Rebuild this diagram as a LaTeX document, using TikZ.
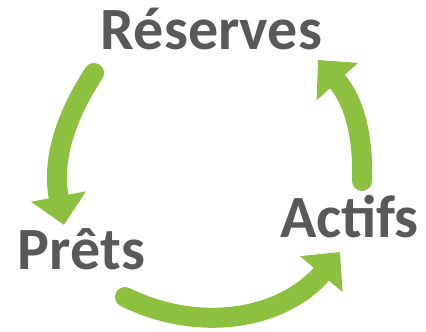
\documentclass[tikz,border=0pt]{standalone}
\usepackage{fontspec}
\setmainfont{Carlito}
\usetikzlibrary{arrows.meta}

\definecolor{leafgreen}{HTML}{8DC03F}
\definecolor{slate}{HTML}{58595B}

\tikzstyle{word}=[
    inner sep=0pt,
    anchor=base,
    text=slate,
    font=\fontsize{60}{60}\selectfont\bfseries
]
\tikzstyle{flow}=[
    color=leafgreen,
    line width=20pt,
    line cap=round,
    -{Triangle[width=54pt,length=29pt]}
]

\begin{document}
\begin{tikzpicture}[x=1pt,y=1pt]
	\useasboundingbox (0,0) rectangle (426,332);
	% labels
	\node (res) [word] at (211.5,282) {Réserves};
	\node (pre) [word] at (81.5,62) {Prêts};
	\node (act) [word] at (349.5,94) {Actifs};

	% arrow ends
	\coordinate (res_out) at (94,259);
	\coordinate (pre_in) at (64,107);
	\coordinate (pre_out) at (125,35);
	\coordinate (act_in) at (340,80);
	\coordinate (act_out) at (362,151);
	\coordinate (res_in) at (318,272);

	\path
	% Reserves to Prets
	(res_out) edge[flow, bend right=22] (pre_in)
	% Prets to Actifs
	(pre_out) edge[flow, bend right=38] (act_in)
	% Actifs to Reserves
	(act_out) edge[flow, bend right=22] (res_in)
	;
\end{tikzpicture}
\end{document}
